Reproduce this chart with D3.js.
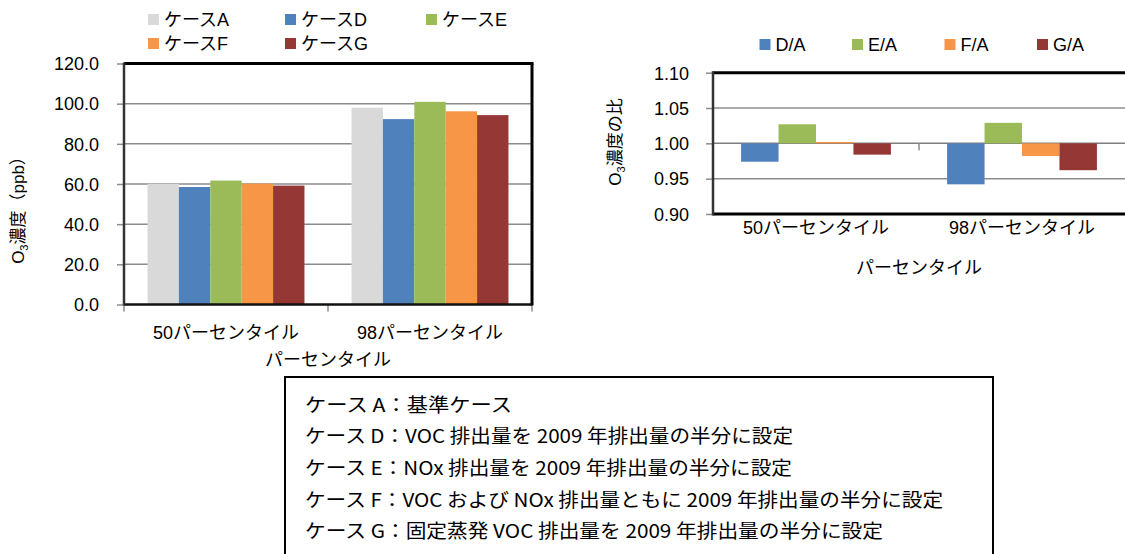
<!DOCTYPE html>
<html lang="ja">
<head>
<meta charset="utf-8">
<script src="https://cdn.jsdelivr.net/npm/d3@7"></script>
<style>
  html, body { margin: 0; padding: 0; background: #fff; }
  svg { display: block; }
  text { fill: #000; }
</style>
</head>
<body>
<svg id="chart" width="1125" height="554"></svg>
<script>
// ---- data ----
const percentiles = ["50パーセンタイル", "98パーセンタイル"];
const caseNames = ["ケースA", "ケースD", "ケースE", "ケースF", "ケースG"];
const caseColors = ["#D9D9D9", "#4F81BD", "#9BBB59", "#F79646", "#953735"];
// O3 concentration (ppb) per case, [50th, 98th]
const caseA = [60.1, 98.0];
const caseD = [58.5, 92.3];
const caseE = [61.7, 100.9];
const caseF = [60.2, 96.2];
const caseG = [59.2, 94.3];
const concTicks = [0, 20, 40, 60, 80, 100, 120];

const ratioNames = ["D/A", "E/A", "F/A", "G/A"];
const ratioColors = ["#4F81BD", "#9BBB59", "#F79646", "#953735"];
const ratioDA = [0.974, 0.942];
const ratioEA = [1.027, 1.029];
const ratioFA = [1.002, 0.982];
const ratioGA = [0.984, 0.962];
const ratioTicks = [0.90, 0.95, 1.00, 1.05, 1.10];

const caseNotes = [
  "ケース A：基準ケース",
  "ケース D：VOC 排出量を 2009 年排出量の半分に設定",
  "ケース E：NOx 排出量を 2009 年排出量の半分に設定",
  "ケース F：VOC および NOx 排出量ともに 2009 年排出量の半分に設定",
  "ケース G：固定蒸発 VOC 排出量を 2009 年排出量の半分に設定"
];

// ---- setup ----
const FONT = "'Liberation Sans', 'Noto Sans CJK JP', sans-serif";
const svg = d3.select("#chart").style("font-family", FONT);

function seriesTable(names, arrays) {
  return names.map((n, i) => ({ name: n, values: arrays[i] }));
}
const concSeries = seriesTable(caseNames, [caseA, caseD, caseE, caseF, caseG]);
const ratioSeries = seriesTable(ratioNames, [ratioDA, ratioEA, ratioFA, ratioGA]);

// ============ left: concentration chart ============
(function () {
  const L = 124, R = 532, T = 63.5, B = 304.5;
  const x0 = d3.scaleBand().domain(percentiles).range([L, R]);
  const x1 = d3.scaleBand().domain(caseNames).range([0, x0.bandwidth()]).paddingOuter(0.75);
  const y = d3.scaleLinear().domain([0, 120]).range([B, T]);
  const color = d3.scaleOrdinal().domain(caseNames).range(caseColors);

  const g = svg.append("g");

  // gridlines
  g.append("g").selectAll("line")
    .data(concTicks.filter(v => v > 0 && v < 120))
    .join("line")
    .attr("x1", L).attr("x2", R)
    .attr("y1", d => y(d)).attr("y2", d => y(d))
    .attr("stroke", "#8C8C8C").attr("stroke-width", 1.5);

  // bars
  const groups = g.append("g").selectAll("g")
    .data(percentiles)
    .join("g")
    .attr("transform", d => `translate(${x0(d)},0)`);
  groups.selectAll("rect")
    .data((p, pi) => concSeries.map(s => ({ name: s.name, value: s.values[pi] })))
    .join("rect")
    .attr("x", d => x1(d.name))
    .attr("width", x1.bandwidth())
    .attr("y", d => y(d.value))
    .attr("height", d => y(0) - y(d.value))
    .attr("fill", d => color(d.name));

  // y axis ticks + labels
  const yAxis = d3.axisLeft(y).tickValues(concTicks).tickFormat(d3.format(".1f"))
    .tickSize(7).tickPadding(18);
  const ya = g.append("g").attr("transform", `translate(${L},0)`).call(yAxis);
  ya.select(".domain").remove();
  ya.selectAll("line").attr("stroke", "#8C8C8C").attr("stroke-width", 1.5);
  ya.selectAll("text").attr("font-size", 18).attr("font-family", FONT).attr("dy", "0.35em").attr("fill", "#000");

  // category boundary ticks
  g.append("g").selectAll("line")
    .data([L, x0(percentiles[1]), R])
    .join("line")
    .attr("x1", d => d).attr("x2", d => d)
    .attr("y1", B).attr("y2", B + 7)
    .attr("stroke", "#8C8C8C").attr("stroke-width", 1.5);

  // category labels
  const xa = g.append("g").attr("transform", `translate(0,${B})`)
    .call(d3.axisBottom(x0).tickSize(0).tickPadding(0));
  xa.select(".domain").remove();
  xa.selectAll("text").attr("font-size", 18).attr("font-family", FONT)
    .attr("y", 28).attr("dy", "0.35em").attr("fill", "#000");

  // plot frame
  g.append("line").attr("x1", L).attr("x2", R + 1.5).attr("y1", T).attr("y2", T)
    .attr("stroke", "#000").attr("stroke-width", 3);
  g.append("line").attr("x1", R).attr("x2", R).attr("y1", T).attr("y2", B + 1)
    .attr("stroke", "#000").attr("stroke-width", 3);
  g.append("line").attr("x1", L).attr("x2", R).attr("y1", B).attr("y2", B)
    .attr("stroke", "#111").attr("stroke-width", 2.5);
  g.append("line").attr("x1", L).attr("x2", L).attr("y1", T - 1).attr("y2", B + 1)
    .attr("stroke", "#333").attr("stroke-width", 2.5);

  // axis titles
  g.append("text")
    .attr("x", (L + R) / 2).attr("y", 360)
    .attr("text-anchor", "middle").attr("dy", "0.35em")
    .attr("font-size", 18)
    .text("パーセンタイル");

  const yt = g.append("text")
    .attr("transform", "translate(18.5,206) rotate(-90)")
    .attr("text-anchor", "middle").attr("dy", "0.35em")
    .attr("font-size", 17);
  yt.append("tspan").text("O");
  yt.append("tspan").attr("font-size", 11).attr("dy", 4).text("3");
  yt.append("tspan").attr("dy", -4).text("濃度（ppb）");

  // legend
  const legPos = [[148, 20], [285, 20], [426, 20], [148, 44], [285, 44]];
  const leg = g.append("g").selectAll("g")
    .data(caseNames)
    .join("g")
    .attr("transform", (d, i) => `translate(${legPos[i][0]},${legPos[i][1]})`);
  leg.append("rect").attr("x", 0).attr("y", -6).attr("width", 11).attr("height", 11)
    .attr("fill", d => color(d));
  leg.append("text").attr("x", 16).attr("dy", "0.35em").attr("font-size", 18)
    .text(d => d);
})();

// ============ right: ratio chart ============
(function () {
  const L = 713, R = 1125, T = 72.7, B = 214;
  const x0 = d3.scaleBand().domain(percentiles).range([L, R]);
  const x1 = d3.scaleBand().domain(ratioNames).range([0, x0.bandwidth()]).paddingOuter(0.75);
  const y = d3.scaleLinear().domain([0.90, 1.10]).range([B, T]);
  const color = d3.scaleOrdinal().domain(ratioNames).range(ratioColors);

  const g = svg.append("g");

  // gridlines
  g.append("g").selectAll("line")
    .data(ratioTicks.filter(v => v > 0.9 && v < 1.1))
    .join("line")
    .attr("x1", L).attr("x2", R)
    .attr("y1", d => y(d)).attr("y2", d => y(d))
    .attr("stroke", d => d === 1 ? "#7F7F7F" : "#8C8C8C").attr("stroke-width", 1.5);

  // bars grow from the 1.00 baseline
  const groups = g.append("g").selectAll("g")
    .data(percentiles)
    .join("g")
    .attr("transform", d => `translate(${x0(d)},0)`);
  groups.selectAll("rect")
    .data((p, pi) => ratioSeries.map(s => ({ name: s.name, value: s.values[pi] })))
    .join("rect")
    .attr("x", d => x1(d.name))
    .attr("width", x1.bandwidth())
    .attr("y", d => Math.min(y(d.value), y(1)))
    .attr("height", d => Math.abs(y(d.value) - y(1)))
    .attr("fill", d => color(d.name));

  // category boundary tick on the 1.00 axis
  g.append("line")
    .attr("x1", x0(percentiles[1])).attr("x2", x0(percentiles[1]))
    .attr("y1", y(1)).attr("y2", y(1) + 7)
    .attr("stroke", "#8C8C8C").attr("stroke-width", 1.5);

  // y axis
  const yAxis = d3.axisLeft(y).tickValues(ratioTicks).tickFormat(d3.format(".2f"))
    .tickSize(7).tickPadding(17);
  const ya = g.append("g").attr("transform", `translate(${L},0)`).call(yAxis);
  ya.select(".domain").remove();
  ya.selectAll("line").attr("stroke", "#8C8C8C").attr("stroke-width", 1.5);
  ya.selectAll("text").attr("font-size", 18).attr("font-family", FONT).attr("dy", "0.35em").attr("fill", "#000");

  // category labels at the bottom
  const xa = g.append("g").attr("transform", `translate(0,${B})`)
    .call(d3.axisBottom(x0).tickSize(0).tickPadding(0));
  xa.select(".domain").remove();
  xa.selectAll("text").attr("font-size", 18).attr("font-family", FONT)
    .attr("y", 14).attr("dy", "0.35em").attr("fill", "#000");

  // plot frame
  g.append("line").attr("x1", L).attr("x2", R).attr("y1", T).attr("y2", T)
    .attr("stroke", "#000").attr("stroke-width", 3);
  g.append("line").attr("x1", L).attr("x2", R).attr("y1", B).attr("y2", B)
    .attr("stroke", "#000").attr("stroke-width", 3);
  g.append("line").attr("x1", L).attr("x2", L).attr("y1", T - 1.5).attr("y2", B + 1.5)
    .attr("stroke", "#333").attr("stroke-width", 2.5);

  // axis titles
  g.append("text")
    .attr("x", (L + R) / 2).attr("y", 268)
    .attr("text-anchor", "middle").attr("dy", "0.35em")
    .attr("font-size", 18)
    .text("パーセンタイル");

  const yt = g.append("text")
    .attr("transform", "translate(615,142) rotate(-90)")
    .attr("text-anchor", "middle").attr("dy", "0.35em")
    .attr("font-size", 17);
  yt.append("tspan").text("O");
  yt.append("tspan").attr("font-size", 11).attr("dy", 4).text("3");
  yt.append("tspan").attr("dy", -4).text("濃度の比");

  // legend
  const leg = g.append("g").selectAll("g")
    .data(ratioNames)
    .join("g")
    .attr("transform", (d, i) => `translate(${759.5 + i * 92.5},44.5)`);
  leg.append("rect").attr("x", 0).attr("y", -5.5).attr("width", 11).attr("height", 11)
    .attr("fill", d => color(d));
  leg.append("text").attr("x", 16).attr("dy", "0.35em").attr("font-size", 18)
    .text(d => d);
})();

// ============ case description box ============
(function () {
  const g = svg.append("g");
  g.append("rect")
    .attr("x", 285).attr("y", 377).attr("width", 708).attr("height", 200)
    .attr("fill", "#fff").attr("stroke", "#000").attr("stroke-width", 2);
  const widths = [207, 488, 487, 638, 578];
  g.selectAll("text.note")
    .data(caseNotes)
    .join("text")
    .attr("class", "note")
    .attr("x", 305)
    .attr("y", (d, i) => 405 + i * 31.7)
    .attr("dy", "0.35em")
    .attr("font-family", "'Noto Sans CJK JP', sans-serif")
    .attr("font-size", 19)
    .attr("textLength", (d, i) => widths[i])
    .attr("lengthAdjust", "spacingAndGlyphs")
    .text(d => d);
})();
</script>
</body>
</html>
